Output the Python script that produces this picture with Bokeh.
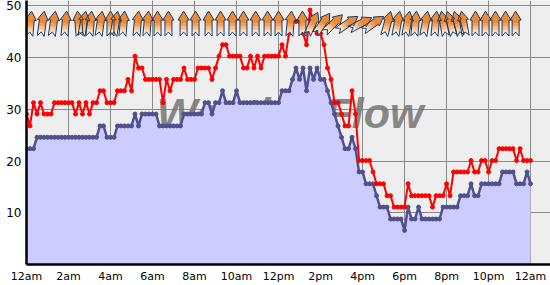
import math
from bokeh.plotting import figure
from bokeh.models import Range1d, FixedTicker, Label
from bokeh.core.properties import value
from bokeh.embed import file_html
from bokeh.resources import INLINE

# ---------------- data ----------------
minutes = list(range(0, 1441, 10))

avg_mph = [
    22.4, 22.4, 22.4, 24.6, 24.6, 24.6, 24.6, 24.6, 24.6, 24.6,
    24.6, 24.6, 24.6, 24.6, 24.6, 24.6, 24.6, 24.6, 24.6, 24.6,
    24.6, 26.8, 26.8, 24.6, 24.6, 24.6, 26.8, 26.8, 26.8, 26.8,
    26.8, 29.1, 26.8, 29.1, 29.1, 29.1, 29.1, 29.1, 26.8, 26.8,
    26.8, 26.8, 26.8, 26.8, 26.8, 29.1, 29.1, 29.1, 29.1, 29.1,
    29.1, 31.3, 31.3, 29.1, 31.3, 31.3, 33.6, 31.3, 31.3, 31.3,
    33.6, 31.3, 31.3, 31.3, 31.3, 31.3, 31.3, 31.3, 31.3, 31.3,
    31.3, 31.3, 31.3, 33.6, 33.6, 33.6, 35.8, 38.0, 35.8, 38.0,
    33.6, 38.0, 35.8, 38.0, 35.8, 35.8, 33.6, 31.3, 29.1, 26.8,
    24.6, 22.4, 22.4, 24.6, 22.4, 17.9, 17.9, 15.6, 15.6, 15.6,
    13.3, 11.1, 11.1, 11.1, 8.8, 8.8, 8.8, 8.8, 6.6, 11.1,
    8.8, 8.8, 11.1, 8.8, 8.8, 8.8, 8.8, 8.8, 8.8, 11.1,
    11.1, 11.1, 11.1, 11.1, 13.3, 13.3, 13.3, 15.6, 13.3, 13.3,
    15.6, 15.6, 15.6, 15.6, 15.6, 15.6, 17.9, 17.9, 17.9, 17.9,
    15.6, 15.6, 15.6, 17.9, 15.6,
]

gust_mph = [
    29.1, 26.8, 31.3, 29.1, 31.3, 29.1, 29.1, 29.1, 31.3, 31.3,
    31.3, 31.3, 31.3, 31.3, 29.1, 31.3, 29.1, 31.3, 29.1, 31.3,
    31.3, 33.6, 33.6, 31.3, 31.3, 31.3, 33.6, 33.6, 33.6, 35.8,
    33.6, 40.3, 38.0, 38.0, 35.8, 35.8, 35.8, 35.8, 35.8, 31.3,
    35.8, 33.6, 35.8, 35.8, 35.8, 38.0, 35.8, 35.8, 35.8, 38.0,
    38.0, 38.0, 38.0, 35.8, 38.0, 40.3, 42.5, 42.5, 40.3, 40.3,
    40.3, 40.3, 38.0, 38.0, 40.3, 38.0, 40.3, 38.0, 40.3, 40.3,
    40.3, 40.3, 40.3, 42.5, 40.3, 44.7, 47.0, 47.0, 47.0, 44.7,
    42.5, 49.2, 47.0, 44.7, 44.7, 42.5, 38.0, 35.8, 31.3, 31.3,
    29.1, 26.8, 26.8, 33.6, 29.1, 20.1, 20.1, 20.1, 20.1, 17.9,
    15.6, 15.6, 15.6, 13.3, 13.3, 11.1, 11.1, 11.1, 11.1, 15.6,
    13.3, 13.3, 13.3, 13.3, 13.3, 13.3, 11.1, 13.3, 13.3, 13.3,
    15.6, 13.3, 17.9, 17.9, 17.9, 17.9, 17.9, 20.1, 17.9, 17.9,
    20.1, 20.1, 17.9, 20.1, 20.1, 22.4, 22.4, 22.4, 22.4, 22.4,
    20.1, 22.4, 20.1, 20.1, 20.1,
]

# wind-direction arrows: reading time (hours) and arrow bearing (deg, clockwise from up)
arrow_hours = [
    0.00, 0.57, 1.14, 1.67, 2.24, 2.86, 3.10, 3.43, 3.90, 4.38,
    4.62, 5.00, 5.67, 6.14, 6.62, 7.14, 7.86, 8.43, 9.05, 9.62,
    10.19, 10.71, 11.29, 11.86, 12.38, 12.95, 13.52, 14.00, 14.48, 15.00,
    15.67, 16.29, 16.90, 17.57, 18.05, 18.52, 18.90, 19.38, 19.86, 20.24,
    20.57, 20.90, 21.19, 21.76, 22.24, 22.71, 23.19, 23.67,
]
arrow_bearing = [
    -8, 5, 8, 8, 5, -5, 10, 5, 8, 0,
    10, 5, 5, 5, 0, 0, 0, 0, 0, 0,
    0, 0, 0, 0, 0, 5, 0, 25, 35, 45,
    55, 62, 55, 15, 10, 10, 5, 10, 5, -10,
    -15, -15, -10, 0, 0, 0, 0, 0,
]

x_tick_hours = [0, 2, 4, 6, 8, 10, 12, 14, 16, 18, 20, 22, 24]
x_tick_labels = ["12am", "2am", "4am", "6am", "8am", "10am", "12pm",
                 "2pm", "4pm", "6pm", "8pm", "10pm", "12am"]
y_ticks = [10, 20, 30, 40, 50]

# ---------------- layout ----------------
W, H = 550, 285
LEFT, BOTTOM = 26, 20
X_END = 24.95
Y_END = 51.06
KX = (W - LEFT) / X_END      # px per hour
KY = (H - BOTTOM) / Y_END    # px per mph

hours = [m / 60.0 for m in minutes]

p = figure(width=W, height=H, x_range=Range1d(0, X_END), y_range=Range1d(0, Y_END),
           output_backend="svg", toolbar_location=None,
           min_border_left=LEFT, min_border_right=0, min_border_top=0,
           min_border_bottom=BOTTOM,
           background_fill_color="#EEEEEE", border_fill_color="white",
           outline_line_color=None)

p.xaxis.ticker = FixedTicker(ticks=x_tick_hours)
p.xaxis.major_label_overrides = {h: lab for h, lab in zip(x_tick_hours, x_tick_labels)}
p.yaxis.ticker = FixedTicker(ticks=y_ticks)
for ax in (p.xaxis[0], p.yaxis[0]):
    ax.axis_line_color = "black"
    ax.axis_line_width = 2.5
    ax.major_tick_line_color = None
    ax.minor_tick_line_color = None
    ax.major_tick_out = 0
    ax.major_tick_in = 0
    ax.minor_tick_out = 0
    ax.minor_tick_in = 0
    ax.major_label_text_font = "DejaVu Sans"
    ax.major_label_text_color = "black"
    ax.major_label_standoff = 5
p.xaxis.major_label_text_font_size = "11px"
p.yaxis.major_label_text_font_size = "12px"

p.xgrid.ticker = FixedTicker(ticks=x_tick_hours)
p.ygrid.ticker = FixedTicker(ticks=y_ticks)
p.grid.grid_line_color = "#8a8a8a"
p.grid.grid_line_width = 1

# watermark (beneath the wind area)
p.text(x=[6.2], y=[29.3], text=["WeatherFlow"], text_font=value("Liberation Sans"),
       text_font_style="bold italic", text_font_size="43px", text_color="#747474",
       text_alpha=0.85, text_baseline="alphabetic", text_align="left")

# average wind area + line
p.varea(x=hours, y1=[0] * len(hours), y2=avg_mph, fill_color="#CCCCFF")
p.line(hours, avg_mph, line_color="#50508F", line_width=2.5)
p.scatter(hours, avg_mph, size=4, color="#50508F")

# gust line
p.line(hours, gust_mph, line_color="#FF0000", line_width=2)
p.scatter(hours, gust_mph, size=4, color="#FF0000")

# direction arrows
ARROW_Y = 46.6
ARROW_DX = -8.0  # px shift of arrow centre from reading time

def rect(a, b):
    return [(-3.5, a), (3.5, a), (3.5, b), (-3.5, b)]

bands = [
    ([(0, 12.5), (5.5, 3.5), (3.5, 3.5), (3.5, -0.3), (-3.5, -0.3), (-3.5, 3.5), (-5.5, 3.5)], "#EC8A35"),
    (rect(0, -3.3), "#F0A161"),
    (rect(-3, -6.3), "#F5BE8E"),
    (rect(-6, -8.8), "#FADCC3"),
    ([(-3.5, -8.5), (3.5, -8.5), (3.5, -12.5), (0, -8.5), (-3.5, -12.5)], "#FFFFFF"),
]
outline = [(0, 12.5), (5.5, 3.5), (3.5, 3.5), (3.5, -12.5), (0, -8.5),
           (-3.5, -12.5), (-3.5, 3.5), (-5.5, 3.5)]

def place(shape, t, deg):
    th = math.radians(deg)
    c, s = math.cos(th), math.sin(th)
    xs, ys = [], []
    for lx, ly in shape:
        dx = lx * c + ly * s
        dy = -lx * s + ly * c
        xs.append(t + (dx + ARROW_DX) / KX)
        ys.append(ARROW_Y + dy / KY)
    return xs, ys

fx, fy, fc, ox, oy = [], [], [], [], []
for t, deg in zip(arrow_hours, arrow_bearing):
    for shape, col in bands:
        xs, ys = place(shape, t, deg)
        fx.append(xs); fy.append(ys); fc.append(col)
    xs, ys = place(outline, t, deg)
    ox.append(xs); oy.append(ys)

p.patches(fx, fy, fill_color=fc, line_color=None)
p.patches(ox, oy, fill_color=None, line_color="#1E3A5C", line_width=1)

p.add_layout(Label(x=0, y=1.5, x_offset=-26, text="MPH", text_font="DejaVu Sans",
                   text_font_size="9px", text_baseline="middle", text_align="left",
                   text_color="black"))

open("out.html", "w").write(file_html(p, INLINE))
